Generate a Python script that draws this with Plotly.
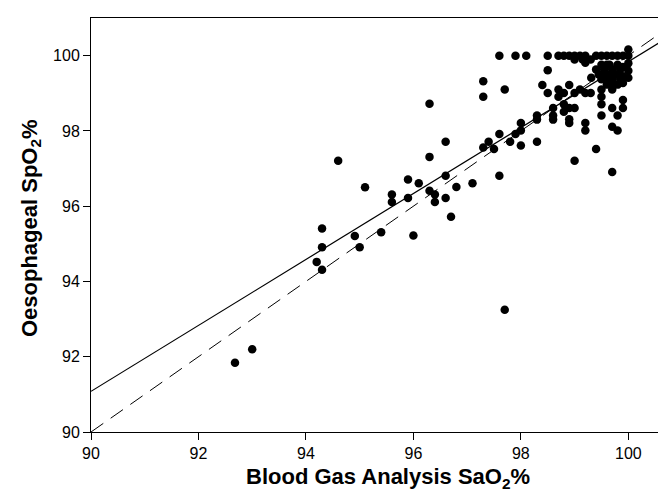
import plotly.graph_objects as go

# Blood gas SaO2 (x) vs oesophageal SpO2 (y)
sao2 = [
    92.68, 93.0,
    94.2, 94.3, 94.3, 94.3,
    94.6, 94.91, 95.0, 95.1, 95.4,
    95.6, 95.6, 95.9, 95.9, 96.0, 96.1,
    96.3, 96.3, 96.3, 96.4, 96.4,
    96.6, 96.6, 96.6, 96.7, 96.8, 97.1,
    97.3, 97.3, 97.3, 97.4,
    97.5, 97.6, 97.6, 97.7, 97.7,
    97.6, 97.9, 98.1,
    97.8, 97.9, 98.0, 98.0, 98.0,
    98.3, 98.3, 98.3,
    98.4, 98.5, 98.5, 98.5,
    98.6, 98.6, 98.6,
    98.7, 98.7, 98.7,
    98.8, 98.8, 98.8, 98.8,
    98.9, 98.9, 98.9, 98.9, 98.9,
    99.0, 99.0, 99.0, 99.0, 99.0,
    99.1, 99.1, 99.15,
    99.2, 99.2, 99.2, 99.2, 99.2,
    99.3, 99.3, 99.31,
    99.4, 99.4, 99.4,
    99.5, 99.5, 99.5, 99.5, 99.5, 99.5, 99.5,
    99.6, 99.6, 99.6, 99.6,
    99.7, 99.7, 99.7, 99.7, 99.7, 99.7, 99.7, 99.7,
    99.8, 99.8, 99.8, 99.8, 99.8, 99.8,
    99.9, 99.9, 99.9, 99.9, 99.9, 99.9,
    100.0, 100.0, 100.0, 100.0, 100.0,
    99.55, 99.65, 99.75, 99.85, 99.45, 99.85, 99.75, 99.65, 99.55,
]
spo2 = [
    91.84, 92.2,
    94.52, 94.31, 94.91, 95.41,
    97.21, 95.21, 94.91, 96.5, 95.31,
    96.31, 96.11, 96.71, 96.22, 95.22, 96.61,
    98.72, 97.31, 96.41, 96.31, 96.11,
    97.71, 96.81, 96.22, 95.72, 96.51, 96.61,
    99.32, 98.91, 97.56, 97.71,
    97.52, 97.92, 96.81, 99.1, 93.25,
    100.0, 100.0, 100.0,
    97.71, 97.92, 98.21, 98.01, 97.61,
    98.41, 98.3, 97.71,
    99.22, 99.61, 99.01, 100.0,
    98.61, 98.41, 98.3,
    99.1, 98.91, 100.0,
    99.01, 98.71, 98.51, 100.0,
    98.61, 98.31, 98.21, 100.0, 99.22,
    98.61, 97.21, 99.01, 100.0, 99.9,
    100.0, 99.1, 99.9,
    98.21, 98.01, 99.01, 99.81, 100.0,
    99.01, 99.9, 99.41,
    97.52, 100.0, 99.63,
    99.1, 98.91, 98.71, 98.41, 100.0, 99.76, 99.37,
    100.0, 99.76, 99.4, 99.23,
    99.1, 98.61, 98.11, 96.91, 100.0, 99.63, 99.37, 99.27,
    98.41, 98.01, 100.0, 99.5, 99.23, 99.76,
    98.82, 98.61, 100.0, 99.7, 99.45, 99.27,
    100.16, 99.6, 99.41, 100.0, 99.8,
    99.63, 99.5, 99.5, 99.63, 99.5, 99.37, 99.5, 99.76, 99.5,
]

# Regression line (solid) and line of identity (dashed)
fit_intercept = 91.08
fit_slope = 0.876
x_range = [90, 100.85]
y_range = [90, 101]
x_ticks = [90, 92, 94, 96, 98, 100]
y_ticks = [90, 92, 94, 96, 98, 100]
x_title = "<b>Blood Gas Analysis SaO<sub>2</sub>%</b>"
y_title = "<b>Oesophageal SpO<sub>2</sub>%</b>"

fit_y = [fit_intercept + fit_slope * (v - 90) for v in x_range]

fig = go.Figure()
fig.add_trace(go.Scatter(x=x_range, y=x_range, mode="lines",
                         line=dict(color="black", width=1, dash="15px,9px"),
                         hoverinfo="skip"))
fig.add_trace(go.Scatter(x=x_range, y=fit_y, mode="lines",
                         line=dict(color="black", width=1.2),
                         hoverinfo="skip"))
fig.add_trace(go.Scatter(x=sao2, y=spo2, mode="markers",
                         marker=dict(color="black", size=8.5, line=dict(width=0))))

font_family = "Liberation Sans, Arial, sans-serif"
fig.update_layout(
    width=666, height=491,
    margin=dict(l=83, r=0, t=10, b=67),
    paper_bgcolor="white", plot_bgcolor="white",
    showlegend=False,
    font=dict(family=font_family, color="black", size=16),
)
fig.update_xaxes(
    range=x_range, tickvals=x_ticks, ticks="outside", ticklen=7, tickwidth=1,
    tickcolor="black", showline=True, linecolor="black", linewidth=1, mirror=True,
    showgrid=False, zeroline=False, tickfont=dict(size=16),
)
fig.update_yaxes(
    range=y_range, tickvals=y_ticks, ticks="outside", ticklen=7, tickwidth=1,
    tickcolor="black", showline=True, linecolor="black", linewidth=1,
    showgrid=False, zeroline=False, tickfont=dict(size=16),
)
fig.add_annotation(text=x_title, xref="paper", yref="paper",
                   x=0.509, y=-0.072, xanchor="center", yanchor="top",
                   showarrow=False, font=dict(size=22))
fig.add_annotation(text=y_title, xref="paper", yref="paper",
                   x=-0.104, y=0.4935, xanchor="center", yanchor="middle",
                   textangle=-90, showarrow=False, font=dict(size=22))

fig.write_html("out.html")
